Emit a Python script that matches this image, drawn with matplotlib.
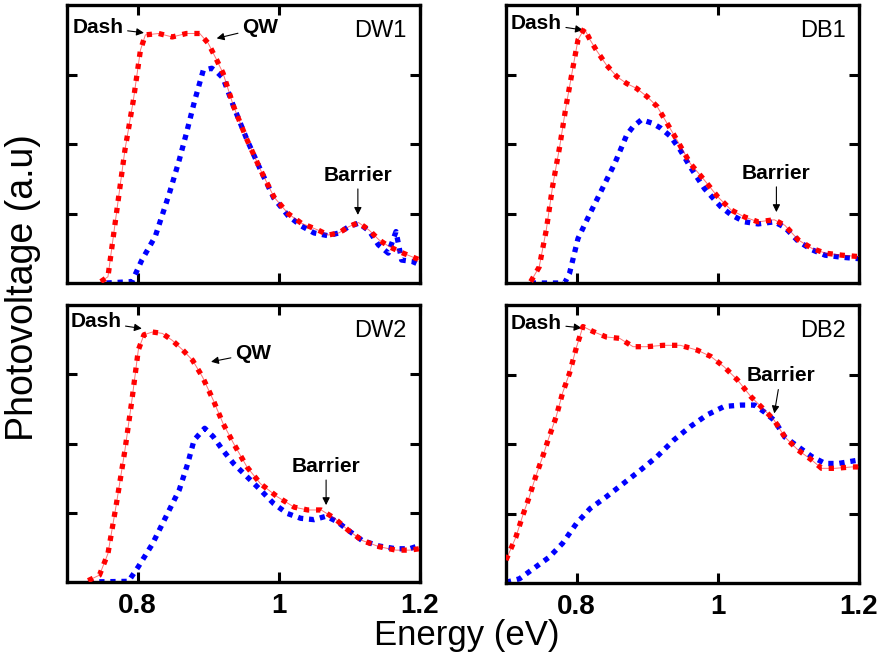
import matplotlib
matplotlib.use("Agg")
import matplotlib.pyplot as plt

plt.rcParams["font.family"] = ["Liberation Sans", "DejaVu Sans"]

# photovoltage spectra, energy in eV, signal in arbitrary units (0..4)
dw1_red_e = [0.748, 0.758, 0.770, 0.782, 0.794, 0.804, 0.811, 0.830, 0.849, 0.869, 0.888, 0.900,
             0.912, 0.921, 0.936, 0.955, 0.974, 0.993, 1.013, 1.032, 1.056, 1.070, 1.085, 1.099,
             1.113, 1.128, 1.142, 1.157, 1.176, 1.200]
dw1_red_v = [0.02, 0.09, 1.00, 1.91, 2.63, 3.35, 3.57, 3.59, 3.54, 3.59, 3.59, 3.45,
             3.21, 3.02, 2.54, 2.06, 1.63, 1.24, 1.00, 0.86, 0.76, 0.69, 0.72, 0.81,
             0.87, 0.76, 0.62, 0.52, 0.43, 0.33]
dw1_blue_e = [0.756, 0.792, 0.806, 0.825, 0.845, 0.859, 0.869, 0.881, 0.893, 0.905, 0.912,
              0.921, 0.936, 0.955, 0.974, 0.993, 1.013, 1.032, 1.050, 1.070, 1.085, 1.099, 1.113,
              1.128, 1.141, 1.155, 1.166, 1.174, 1.189, 1.200]
dw1_blue_v = [0.0, 0.02, 0.33, 0.67, 1.29, 1.77, 2.15, 2.63, 3.06, 3.09, 3.04,
              2.95, 2.54, 2.06, 1.63, 1.22, 0.97, 0.82, 0.72, 0.68, 0.72, 0.81, 0.86,
              0.75, 0.55, 0.43, 0.74, 0.33, 0.31, 0.26]

db1_red_e = [0.735, 0.747, 0.757, 0.766, 0.776, 0.785, 0.795, 0.802, 0.811, 0.819, 0.828, 0.842,
             0.857, 0.871, 0.885, 0.900, 0.914, 0.928, 0.942, 0.961, 0.981, 1.000, 1.019, 1.038,
             1.057, 1.080, 1.095, 1.114, 1.133, 1.152, 1.176, 1.200]
db1_red_v = [0.02, 0.23, 0.76, 1.39, 1.96, 2.54, 3.11, 3.50, 3.66, 3.50, 3.35, 3.14,
             2.97, 2.87, 2.80, 2.68, 2.54, 2.30, 2.06, 1.72, 1.48, 1.24, 1.05, 0.95,
             0.88, 0.91, 0.83, 0.62, 0.50, 0.43, 0.40, 0.38]
db1_blue_e = [0.735, 0.783, 0.790, 0.802, 0.819, 0.838, 0.854, 0.864, 0.871, 0.880, 0.892, 0.907,
              0.919, 0.933, 0.947, 0.961, 0.981, 1.004, 1.019, 1.038, 1.057, 1.080, 1.095, 1.114,
              1.133, 1.152, 1.176, 1.200]
db1_blue_v = [0.0, 0.0, 0.14, 0.64, 1.00, 1.39, 1.72, 1.96, 2.13, 2.25, 2.35, 2.30,
              2.23, 2.11, 1.91, 1.67, 1.36, 1.10, 0.98, 0.88, 0.85, 0.88, 0.80, 0.60,
              0.48, 0.40, 0.37, 0.35]

dw2_red_e = [0.730, 0.746, 0.758, 0.770, 0.782, 0.792, 0.801, 0.809, 0.821, 0.835, 0.849, 0.864,
             0.878, 0.892, 0.907, 0.921, 0.936, 0.955, 0.974, 0.998, 1.022, 1.041, 1.060, 1.079,
             1.098, 1.118, 1.142, 1.166, 1.185, 1.199]
dw2_red_v = [0.02, 0.10, 0.41, 1.13, 1.90, 2.63, 3.35, 3.57, 3.61, 3.59, 3.49, 3.35,
             3.20, 2.96, 2.63, 2.29, 2.00, 1.66, 1.42, 1.23, 1.08, 1.04, 1.04, 0.92,
             0.75, 0.60, 0.51, 0.46, 0.46, 0.48]
dw2_blue_e = [0.730, 0.787, 0.801, 0.821, 0.840, 0.859, 0.871, 0.880, 0.895, 0.907, 0.921, 0.936,
              0.955, 0.974, 0.993, 1.012, 1.031, 1.050, 1.067, 1.083, 1.098, 1.118, 1.142, 1.166,
              1.185, 1.200]
dw2_blue_v = [0.0, 0.01, 0.22, 0.55, 0.94, 1.33, 1.71, 2.05, 2.22, 2.10, 1.90, 1.71,
              1.52, 1.33, 1.13, 0.99, 0.92, 0.90, 0.95, 0.87, 0.75, 0.60, 0.52, 0.48,
              0.48, 0.53]

db2_red_e = [0.700, 0.714, 0.723, 0.733, 0.742, 0.752, 0.761, 0.771, 0.780, 0.790, 0.800, 0.809,
             0.823, 0.842, 0.861, 0.880, 0.899, 0.923, 0.947, 0.971, 0.990, 1.009, 1.028, 1.047,
             1.066, 1.080, 1.095, 1.114, 1.133, 1.147, 1.166, 1.190, 1.200]
db2_red_v = [0.33, 0.66, 0.95, 1.24, 1.53, 1.82, 2.10, 2.39, 2.73, 3.02, 3.40, 3.69,
             3.62, 3.54, 3.52, 3.40, 3.40, 3.42, 3.42, 3.35, 3.26, 3.11, 2.92, 2.68,
             2.49, 2.34, 2.10, 1.91, 1.77, 1.65, 1.65, 1.67, 1.67]
db2_blue_e = [0.700, 0.719, 0.742, 0.761, 0.780, 0.800, 0.819, 0.842, 0.866, 0.890, 0.914, 0.938,
              0.961, 0.985, 1.009, 1.033, 1.052, 1.066, 1.080, 1.095, 1.114, 1.133, 1.152, 1.171,
              1.200]
db2_blue_v = [0.01, 0.06, 0.23, 0.37, 0.57, 0.86, 1.07, 1.24, 1.43, 1.62, 1.82, 2.06,
              2.25, 2.42, 2.54, 2.56, 2.56, 2.46, 2.34, 2.10, 1.96, 1.82, 1.72, 1.72,
              1.77]

panel_names = ["DW1", "DB1", "DW2", "DB2"]
x_ticks = [0.8, 1.0, 1.2]
x_tick_labels = ["0.8", "1", "1.2"]
y_ticks = [1, 2, 3]

RED = "#ff0000"
BLUE = "#0000ff"

fig = plt.figure(figsize=(8.82, 6.59), dpi=100)
W, H = 882, 659


def px_axes(left, top, right, bottom):
    return fig.add_axes([left / W, 1 - bottom / H, (right - left) / W, (bottom - top) / H])


axes = [
    px_axes(67, 5, 420, 283),
    px_axes(506, 5, 859, 283),
    px_axes(67, 305, 420, 582),
    px_axes(506, 305, 859, 583),
]

series = [
    (dw1_red_e, dw1_red_v, dw1_blue_e, dw1_blue_v),
    (db1_red_e, db1_red_v, db1_blue_e, db1_blue_v),
    (dw2_red_e, dw2_red_v, dw2_blue_e, dw2_blue_v),
    (db2_red_e, db2_red_v, db2_blue_e, db2_blue_v),
]

for i, (ax, name, (re, rv, be, bv)) in enumerate(zip(axes, panel_names, series)):
    # blue first so red dots sit on top where the curves merge
    ax.plot(be, bv, color=BLUE, lw=3.8, dashes=(1.0, 1.1), dash_capstyle="butt", zorder=2)
    ax.plot(re, rv, color=RED, lw=0.7, alpha=0.55, zorder=3)
    ax.plot(re, rv, color=RED, lw=3.8, dashes=(1.0, 1.3), dash_capstyle="butt", zorder=4)

    ax.set_xlim(0.7, 1.2)
    ax.set_ylim(0, 4)
    ax.set_xticks(x_ticks)
    ax.set_yticks(y_ticks)
    ax.set_yticklabels([])
    if i < 2:
        ax.set_xticklabels([])
    else:
        ax.set_xticklabels(x_tick_labels, fontsize=20, fontweight="bold")
    ax.tick_params(direction="in", length=7, width=2.2, top=True, right=True, pad=8)
    for sp in ax.spines.values():
        sp.set_linewidth(2.4)
    ax.text(0.962, 0.905, name, transform=ax.transAxes, ha="right", va="center", fontsize=17)

arrow = dict(arrowstyle="-|>", color="black", lw=0.8, mutation_scale=11, shrinkA=1, shrinkB=0)
bold = dict(fontsize=15, fontweight="bold")

ax = axes[0]
ax.annotate("Dash", xy=(0.809, 3.60), xytext=(0.780, 3.68), ha="right", va="center", arrowprops=arrow, **bold)
ax.annotate("QW", xy=(0.912, 3.52), xytext=(0.948, 3.67), ha="left", va="center", arrowprops=arrow, **bold)
ax.annotate("Barrier", xy=(1.112, 0.98), xytext=(1.112, 1.55), ha="center", va="center", arrowprops=arrow, **bold)

ax = axes[1]
ax.annotate("Dash", xy=(0.809, 3.64), xytext=(0.779, 3.74), ha="right", va="center", arrowprops=arrow, **bold)
ax.annotate("Barrier", xy=(1.083, 1.02), xytext=(1.083, 1.58), ha="center", va="center", arrowprops=arrow, **bold)

ax = axes[2]
ax.annotate("Dash", xy=(0.806, 3.66), xytext=(0.777, 3.76), ha="right", va="center", arrowprops=arrow, **bold)
ax.annotate("QW", xy=(0.904, 3.18), xytext=(0.938, 3.30), ha="left", va="center", arrowprops=arrow, **bold)
ax.annotate("Barrier", xy=(1.067, 1.11), xytext=(1.067, 1.67), ha="center", va="center", arrowprops=arrow, **bold)

ax = axes[3]
ax.annotate("Dash", xy=(0.807, 3.67), xytext=(0.779, 3.74), ha="right", va="center", arrowprops=arrow, **bold)
ax.annotate("Barrier", xy=(1.080, 2.44), xytext=(1.089, 2.98), ha="center", va="center", arrowprops=arrow, **bold)

fig.text(23 / W, 1 - 288 / H, "Photovoltage (a.u)", rotation=90, ha="center", va="center", fontsize=27)
fig.text(467 / W, 1 - 636 / H, "Energy (eV)", ha="center", va="center", fontsize=25)

fig.savefig("out.png", dpi=100)
